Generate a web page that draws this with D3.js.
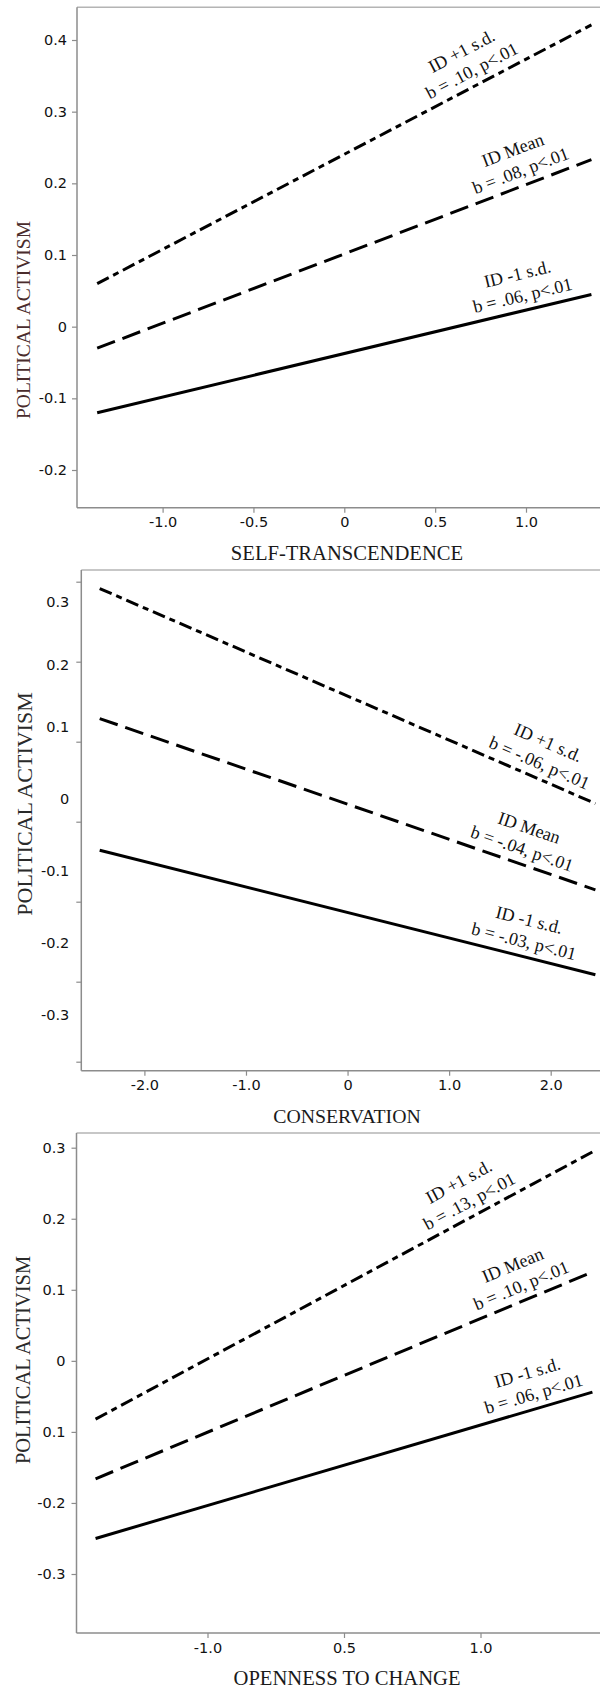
<!DOCTYPE html>
<html>
<head>
<meta charset="utf-8">
<script src="https://cdn.jsdelivr.net/npm/d3@7"></script>
<style>
  body { margin: 0; background: #fff; }
  svg { display: block; }
</style>
</head>
<body>
<svg id="chart" width="600" height="1690"></svg>
<script>
// --- data ---
const groups = ["ID +1 s.d.", "ID Mean", "ID -1 s.d."];

// panel 1: self-transcendence
const selfX = [-1.36, 1.36];
const selfHigh = [0.060, 0.421];
const selfMean = [-0.030, 0.233];
const selfLow = [-0.120, 0.045];
const selfB = ["b = .10, p<.01", "b = .08, p<.01", "b = .06, p<.01"];
const selfXTicks = [-1, -0.5, 0, 0.5, 1];
const selfXLabels = ["-1.0", "-0.5", "0", "0.5", "1.0"];
const selfYTicks = [0.4, 0.3, 0.2, 0.1, 0, -0.1, -0.2];
const selfYLabels = ["0.4", "0.3", "0.2", "0.1", "0", "-0.1", "-0.2"];

// panel 2: conservation
const consX = [-2.44, 2.44];
const consHigh = [0.322, -0.006];
const consMean = [0.114, -0.126];
const consLow = [-0.071, -0.244];
const consB = ["b = -.06, p<.01", "b = -.04, p<.01", "b = -.03, p<.01"];
const consXTicks = [-2, -1, 0, 1, 2];
const consXLabels = ["-2.0", "-1.0", "0", "1.0", "2.0"];
const consYTicks = [0.3, 0.2, 0.1, 0, -0.1, -0.2, -0.3];
const consYLabels = ["0.3", "0.2", "0.1", "0", "-0.1", "-0.2", "-0.3"];

// panel 3: openness to change
const openX = [-1.82, 1.82];
const openHigh = [-0.082, 0.294];
const openMean = [-0.166, 0.125];
const openLow = [-0.250, -0.044];
const openB = ["b = .13, p<.01", "b = .10, p<.01", "b = .06, p<.01"];
const openXTicks = [-1, 0, 1];
const openXLabels = ["-1.0", "0.5", "1.0"];
const openYTicks = [0.3, 0.2, 0.1, 0, -0.1, -0.2, -0.3];
const openYLabels = ["0.3", "0.2", "0.1", "0", "0.1", "-0.2", "-0.3"];

// --- layout of each panel (pixels) ---
const panels = [
  {
    title: "SELF-TRANSCENDENCE", xs: selfX, series: [selfHigh, selfMean, selfLow], notes: selfB,
    xTicks: selfXTicks, xLabels: selfXLabels, yTicks: selfYTicks, yLabels: selfYLabels,
    left: 77, right: 600, top: 7.3, bottom: 507.7,
    xDom: [-1, 1], xRng: [162.6, 526],
    yDom: [0.4, -0.2], yRng: [40, 470],
    labelPad: 10,
    noteAt: [0.74, 1.0, 1.0],
    titleY: 559.5, titleSize: 20.6,
    yTitleX: 29.5, yTitleY: 320, yTitleSize: 19.5, yTitleColor: "#4a2c2c"
  },
  {
    title: "CONSERVATION", xs: consX, series: [consHigh, consMean, consLow], notes: consB,
    xTicks: consXTicks, xLabels: consXLabels, yTicks: consYTicks, yLabels: consYLabels,
    left: 81.3, right: 600, top: 570, bottom: 1070.7,
    xDom: [-2, 2], xRng: [144.4, 550.7],
    // the printed labels are unevenly spaced and the tick marks sit apart from them
    yDom: [0.3, 0.1, -0.3], yRng: [602.3, 727.3, 1015],
    markRng: [581.7, 1061.7],
    labelPad: 12,
    noteAt: [1.83, 1.67, 1.70],
    titleY: 1123, titleSize: 19.8,
    yTitleX: 31.5, yTitleY: 804, yTitleSize: 22, yTitleColor: "#2a2a2a"
  },
  {
    title: "OPENNESS TO CHANGE", xs: openX, series: [openHigh, openMean, openLow], notes: openB,
    xTicks: openXTicks, xLabels: openXLabels, yTicks: openYTicks, yLabels: openYLabels,
    left: 76.5, right: 600, top: 1133, bottom: 1633,
    xDom: [-1, 1], xRng: [207.5, 480.5],
    yDom: [0.3, -0.3], yRng: [1147.7, 1574],
    labelPad: 11,
    noteAt: [0.97, 1.34, 1.42],
    titleY: 1685, titleSize: 20.6,
    yTitleX: 30, yTitleY: 1360, yTitleSize: 20.5, yTitleColor: "#2a2a2a"
  }
];

const dashes = ["13,5,6,5", "19,8", null];
const serif = "'Liberation Serif', 'Times New Roman', serif";
const sans = "'DejaVu Sans', Verdana, sans-serif";

const svg = d3.select("#chart");

panels.forEach(function(p) {
  let x = d3.scaleLinear().domain(p.xDom).range(p.xRng);
  let y = d3.scaleLinear().domain(p.yDom).range(p.yRng);
  let yMark = p.markRng
    ? d3.scaleLinear().domain([p.yTicks[0], p.yTicks[p.yTicks.length - 1]]).range(p.markRng)
    : y;

  let g = svg.append("g");

  // frame: light top rule, grey left and bottom axes
  g.append("line")
    .attr("x1", p.left).attr("x2", p.right)
    .attr("y1", p.top).attr("y2", p.top)
    .attr("stroke", "#b4b4b4").attr("stroke-width", 1.5);
  g.append("line")
    .attr("x1", p.left).attr("x2", p.left)
    .attr("y1", p.top).attr("y2", p.bottom)
    .attr("stroke", "#8c8c8c").attr("stroke-width", 1.5);
  g.append("line")
    .attr("x1", p.left).attr("x2", p.right)
    .attr("y1", p.bottom).attr("y2", p.bottom)
    .attr("stroke", "#8c8c8c").attr("stroke-width", 1.5);

  // y tick marks
  let marks = g.append("g")
    .attr("transform", "translate(" + p.left + ",0)")
    .call(d3.axisLeft(yMark).tickValues(p.yTicks).tickSize(5).tickFormat(""));
  marks.select(".domain").remove();
  marks.selectAll("line").attr("stroke", "#8c8c8c").attr("stroke-width", 1.2);

  // y tick labels
  let yLab = g.append("g")
    .attr("transform", "translate(" + p.left + ",0)")
    .call(d3.axisLeft(y).tickValues(p.yTicks).tickSize(0).tickPadding(p.labelPad)
      .tickFormat(d => p.yLabels[p.yTicks.indexOf(d)]));
  yLab.select(".domain").remove();
  yLab.selectAll("text")
    .style("font-family", sans).style("font-size", "14.5px").attr("fill", "#111");

  // x axis
  let xAx = g.append("g")
    .attr("transform", "translate(0," + p.bottom + ")")
    .call(d3.axisBottom(x).tickValues(p.xTicks).tickSize(5).tickPadding(4.5)
      .tickFormat(d => p.xLabels[p.xTicks.indexOf(d)]));
  xAx.select(".domain").remove();
  xAx.selectAll("line").attr("stroke", "#8c8c8c").attr("stroke-width", 1.2);
  xAx.selectAll("text")
    .style("font-family", sans).style("font-size", "14.5px").attr("fill", "#111");

  // regression lines
  let line = d3.line()
    .x((d, i) => x(p.xs[i]))
    .y(d => y(d));

  p.series.forEach(function(s, k) {
    g.append("path")
      .attr("d", line(s))
      .attr("fill", "none")
      .attr("stroke", "#000")
      .attr("stroke-width", 3)
      .attr("stroke-dasharray", dashes[k]);

    // label written along the line
    let x0 = x(p.xs[0]), y0 = y(s[0]);
    let x1 = x(p.xs[1]), y1 = y(s[1]);
    let ax = x(p.noteAt[k]);
    let ay = y0 + (ax - x0) * (y1 - y0) / (x1 - x0);
    let deg = Math.atan2(y1 - y0, x1 - x0) * 180 / Math.PI;
    let note = g.append("g")
      .attr("transform", "translate(" + ax + "," + ay + ") rotate(" + deg + ")")
      .style("font-family", serif)
      .style("font-size", "18px")
      .attr("fill", "#111")
      .attr("text-anchor", "middle");
    note.append("text").attr("y", -31).text(groups[k]);
    note.append("text").attr("y", -9).text(p.notes[k]);
  });

  // axis titles
  g.append("text")
    .attr("x", 347).attr("y", p.titleY)
    .attr("text-anchor", "middle")
    .style("font-family", serif)
    .style("font-size", p.titleSize + "px")
    .attr("fill", "#1a1a1a")
    .text(p.title);

  g.append("text")
    .attr("transform", "translate(" + p.yTitleX + "," + p.yTitleY + ") rotate(-90)")
    .attr("text-anchor", "middle")
    .style("font-family", serif)
    .style("font-size", p.yTitleSize + "px")
    .attr("fill", p.yTitleColor)
    .text("POLITICAL ACTIVISM");
});
</script>
</body>
</html>
